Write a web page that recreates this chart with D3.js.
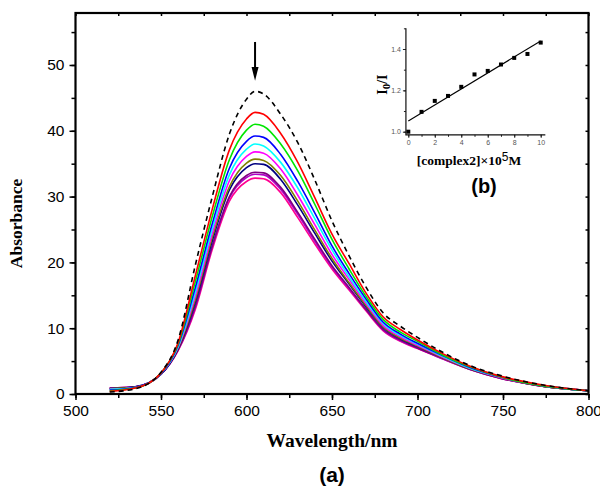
<!DOCTYPE html>
<html>
<head>
<meta charset="utf-8">
<script src="https://cdn.jsdelivr.net/npm/d3@7"></script>
<style>
  body { margin: 0; background: #fff; }
  svg { display: block; }
</style>
</head>
<body>
<div id="chart"></div>
<script>
// wavelengths (nm) sampled for every spectrum
const wavelengths = [520, 535, 550, 560, 570, 580, 590, 600, 605, 610, 620, 630, 640, 650, 660, 670, 680, 690, 700, 715, 730, 750, 775, 800]

// spectra, top (dashed, free dye) to bottom
const sDash   = [0.3, 0.8, 3.3, 8.2, 19.5, 30.0, 39.5, 44.8, 46.0, 45.6, 42.5, 38.2, 32.5, 26.3, 21.0, 16.2, 12.3, 10.3, 8.6, 6.3, 4.4, 2.7, 1.3, 0.5]
const sRed    = [0.4, 0.9, 3.2, 7.8, 17.9, 28.1, 37.1, 41.8, 42.8, 42.5, 39.6, 35.2, 29.8, 24.3, 19.8, 15.3, 11.7, 9.8, 8.2, 6.1, 4.3, 2.6, 1.3, 0.5]
const sGreen  = [0.5, 0.9, 3.2, 7.6, 17.0, 27.0, 35.6, 40.1, 41.0, 40.7, 38.0, 33.9, 28.8, 23.5, 19.0, 14.8, 11.3, 9.4, 8.0, 5.9, 4.2, 2.5, 1.2, 0.5]
const sBlue   = [0.6, 1.0, 3.1, 7.4, 16.1, 25.9, 34.3, 38.4, 39.2, 39.0, 36.4, 32.3, 27.5, 22.5, 18.3, 14.4, 10.9, 9.1, 7.7, 5.8, 4.1, 2.5, 1.2, 0.5]
const sCyan   = [0.7, 1.0, 3.1, 7.2, 15.4, 25.1, 33.3, 37.2, 38.0, 37.7, 35.2, 31.3, 26.6, 21.9, 17.8, 14.0, 10.7, 8.9, 7.6, 5.7, 4.0, 2.5, 1.2, 0.5]
const sMag    = [0.7, 1.0, 3.1, 7.1, 14.8, 24.4, 32.4, 36.1, 36.8, 36.6, 34.2, 30.2, 25.7, 21.2, 17.4, 13.7, 10.4, 8.7, 7.4, 5.6, 4.0, 2.4, 1.2, 0.5]
const sOlive  = [0.8, 1.0, 3.1, 7.0, 14.3, 23.8, 31.5, 35.1, 35.7, 35.5, 33.2, 29.3, 24.9, 20.6, 16.9, 13.4, 10.2, 8.5, 7.3, 5.5, 3.9, 2.4, 1.1, 0.5]
const sNavy   = [0.8, 1.1, 3.0, 6.9, 13.9, 23.3, 31.0, 34.4, 35.0, 34.9, 32.6, 28.7, 24.4, 20.2, 16.7, 13.2, 10.1, 8.4, 7.2, 5.5, 3.9, 2.4, 1.1, 0.5]
const sPurple = [0.9, 1.1, 3.0, 6.7, 13.3, 22.5, 30.0, 33.2, 33.7, 33.6, 31.4, 27.6, 23.5, 19.5, 16.2, 12.8, 9.8, 8.2, 7.0, 5.4, 3.8, 2.3, 1.1, 0.5]
const sViolet = [0.9, 1.1, 3.0, 6.7, 13.1, 22.4, 29.8, 32.9, 33.4, 33.3, 31.1, 27.3, 23.2, 19.3, 16.0, 12.8, 9.7, 8.1, 7.0, 5.3, 3.8, 2.3, 1.1, 0.5]
const sPink   = [0.9, 1.1, 3.0, 6.6, 12.8, 22.0, 29.3, 32.3, 32.8, 32.7, 30.6, 26.8, 22.8, 19.0, 15.8, 12.6, 9.6, 8.0, 6.9, 5.3, 3.8, 2.3, 1.1, 0.5]

const spectra = [sDash, sRed, sGreen, sBlue, sCyan, sMag, sOlive, sNavy, sPurple, sViolet, sPink]
const colors = ['#000000', '#ff0000', '#00e600', '#0000ff', '#00ffff', '#ff00ff', '#808000', '#000080', '#800080', '#b000c8', '#ff0090']

const xTicks = [500, 550, 600, 650, 700, 750, 800]
const yTicks = [0, 10, 20, 30, 40, 50]

// inset (b): I0/I vs [complex2]
const insetX = [0, 1, 2, 3, 4, 5, 6, 7, 8, 9, 10]
const insetY = [1.0, 1.096, 1.149, 1.173, 1.217, 1.277, 1.294, 1.325, 1.357, 1.376, 1.431]
const fitX = [0, 10]
const fitY = [1.052, 1.439]
const insetXTicks = [0, 2, 4, 6, 8, 10]
const insetYTicks = [1.0, 1.2, 1.4]

const W = 600
const H = 490

const svg = d3.select('#chart')
  .append('svg')
  .attr('width', W)
  .attr('height', H)
  .attr('viewBox', `0 0 ${W} ${H}`)

const x = d3.scaleLinear().domain([500, 800]).range([75.5, 588.5])
const y = d3.scaleLinear().domain([0, 57.9]).range([394, 13])

const sans = 'Liberation Sans, Arial, sans-serif'
const serif = 'Liberation Serif, Times New Roman, serif'

// spectra
const line = d3.line()
  .x((d, i) => x(wavelengths[i]))
  .y((d) => y(d))
  .curve(d3.curveMonotoneX)

// draw bottom curve first so the top ones sit above
spectra.slice().reverse().forEach((s, k) => {
  const i = spectra.length - 1 - k
  svg.append('path')
    .datum(s)
    .attr('d', line)
    .attr('fill', 'none')
    .attr('stroke', colors[i])
    .attr('stroke-width', 1.6)
    .attr('stroke-dasharray', i === 0 ? '5,4' : null)
})

// frame axes
const styleAxis = (g) => {
  g.select('.domain').remove()
  g.selectAll('.tick line').attr('stroke', '#000').attr('stroke-width', 1.5)
  g.selectAll('.tick text')
    .attr('fill', '#000')
    .attr('font-family', sans)
    .attr('font-size', 15.5)
}

const xMinor = d3.range(500, 801, 25)
const yMinor = d3.range(0, 56, 5)

svg.append('g')
  .attr('transform', `translate(0,${y(0)})`)
  .call(d3.axisBottom(x).tickValues(xMinor).tickSize(4).tickFormat(''))
  .call(styleAxis)
svg.append('g')
  .attr('transform', `translate(0,${y(0)})`)
  .call(d3.axisBottom(x).tickValues(xTicks).tickSize(6).tickPadding(5).tickFormat(d3.format('d')))
  .call(styleAxis)

svg.append('g')
  .attr('transform', `translate(${x(500)},0)`)
  .call(d3.axisLeft(y).tickValues(yMinor).tickSize(4).tickFormat(''))
  .call(styleAxis)
svg.append('g')
  .attr('transform', `translate(${x(500)},0)`)
  .call(d3.axisLeft(y).tickValues(yTicks).tickSize(6).tickPadding(5).tickFormat(d3.format('d')))
  .call(styleAxis)

// top and right: short inward ticks
svg.append('g')
  .attr('transform', `translate(0,${y.range()[1]})`)
  .call(d3.axisBottom(x).tickValues(xMinor).tickSize(3).tickFormat(''))
  .call(styleAxis)
svg.append('g')
  .attr('transform', `translate(${x(800)},0)`)
  .call(d3.axisLeft(y).tickValues(yMinor).tickSize(3).tickFormat(''))
  .call(styleAxis)

svg.append('rect')
  .attr('x', x(500))
  .attr('y', y.range()[1])
  .attr('width', x(800) - x(500))
  .attr('height', y(0) - y.range()[1])
  .attr('fill', 'none')
  .attr('stroke', '#000')
  .attr('stroke-width', 2.2)

// arrow over the peak
const ax = x(605)
svg.append('line')
  .attr('x1', ax).attr('x2', ax)
  .attr('y1', y(53.5)).attr('y2', y(49.5))
  .attr('stroke', '#000')
  .attr('stroke-width', 2)
svg.append('path')
  .attr('d', `M${ax - 3.5},${y(49.7)} L${ax + 3.5},${y(49.7)} L${ax},${y(47.6)} Z`)
  .attr('fill', '#000')

// axis titles
svg.append('text')
  .attr('transform', `translate(22,${(y(0) + y.range()[1]) / 2 + 20}) rotate(-90)`)
  .attr('text-anchor', 'middle')
  .attr('font-family', serif)
  .attr('font-weight', 'bold')
  .attr('font-size', 17.5)
  .text('Absorbance')

svg.append('text')
  .attr('x', (x(500) + x(800)) / 2)
  .attr('y', 447)
  .attr('text-anchor', 'middle')
  .attr('font-family', serif)
  .attr('font-weight', 'bold')
  .attr('font-size', 19.5)
  .text('Wavelength/nm')

svg.append('text')
  .attr('x', (x(500) + x(800)) / 2)
  .attr('y', 482)
  .attr('text-anchor', 'middle')
  .attr('font-family', sans)
  .attr('font-weight', 'bold')
  .attr('font-size', 21)
  .text('(a)')

// ---- inset (b) ----
const ix = d3.scaleLinear().domain([0, 10]).range([408.3, 540.7])
const iy = d3.scaleLinear().domain([1.0, 1.4]).range([131.7, 49])
const ixLeft = ix(-0.18)
const iyBottom = iy(0.985)
const iyTop = iy(1.5)

const styleInset = (g) => {
  g.select('.domain').remove()
  g.selectAll('.tick line').attr('stroke', '#222').attr('stroke-width', 1)
  g.selectAll('.tick text')
    .attr('fill', '#555')
    .attr('font-family', sans)
    .attr('font-size', 7)
}

svg.append('g')
  .attr('transform', `translate(0,${iyBottom})`)
  .call(d3.axisBottom(ix).tickValues(d3.range(0, 11, 1)).tickSize(2).tickFormat(''))
  .call(styleInset)
svg.append('g')
  .attr('transform', `translate(0,${iyBottom})`)
  .call(d3.axisBottom(ix).tickValues(insetXTicks).tickSize(3).tickPadding(2).tickFormat(d3.format('d')))
  .call(styleInset)

svg.append('g')
  .attr('transform', `translate(${ixLeft},0)`)
  .call(d3.axisLeft(iy).tickValues([1.0, 1.1, 1.2, 1.3, 1.4, 1.5]).tickSize(2).tickFormat(''))
  .call(styleInset)
svg.append('g')
  .attr('transform', `translate(${ixLeft},0)`)
  .call(d3.axisLeft(iy).tickValues(insetYTicks).tickSize(3).tickPadding(2).tickFormat(d3.format('.1f')))
  .call(styleInset)

svg.append('path')
  .attr('d', `M${ixLeft},${iyTop} V${iyBottom} H${ix(10.35)}`)
  .attr('fill', 'none')
  .attr('stroke', '#111')
  .attr('stroke-width', 1.2)

svg.append('line')
  .attr('x1', ix(fitX[0])).attr('y1', iy(fitY[0]))
  .attr('x2', ix(fitX[1])).attr('y2', iy(fitY[1]))
  .attr('stroke', '#000')
  .attr('stroke-width', 1.1)

svg.selectAll('.pt')
  .data(insetX)
  .enter()
  .append('rect')
  .attr('class', 'pt')
  .attr('x', (d) => ix(d) - 2)
  .attr('y', (d, i) => iy(insetY[i]) - 2)
  .attr('width', 4)
  .attr('height', 4)
  .attr('fill', '#000')

const iLab = svg.append('text')
  .attr('transform', `translate(387,${(iyTop + iyBottom) / 2 + 3}) rotate(-90)`)
  .attr('text-anchor', 'middle')
  .attr('font-family', serif)
  .attr('font-weight', 'bold')
  .attr('font-size', 14)
iLab.append('tspan').text('I')
iLab.append('tspan').attr('dy', 3).attr('font-size', 11).text('0')
iLab.append('tspan').attr('dy', -3).text('/I')

const cLab = svg.append('text')
  .attr('x', 469)
  .attr('y', 165)
  .attr('text-anchor', 'middle')
  .attr('font-family', serif)
  .attr('font-weight', 'bold')
  .attr('font-size', 13.5)
cLab.append('tspan').text('[complex2]×10')
cLab.append('tspan').attr('dy', -4).attr('font-family', sans).attr('font-weight', 'normal').attr('font-size', 12).text('5')
cLab.append('tspan').attr('dy', 4).text('M')

svg.append('text')
  .attr('x', 484)
  .attr('y', 193)
  .attr('text-anchor', 'middle')
  .attr('font-family', sans)
  .attr('font-weight', 'bold')
  .attr('font-size', 20)
  .text('(b)')
</script>
</body>
</html>
